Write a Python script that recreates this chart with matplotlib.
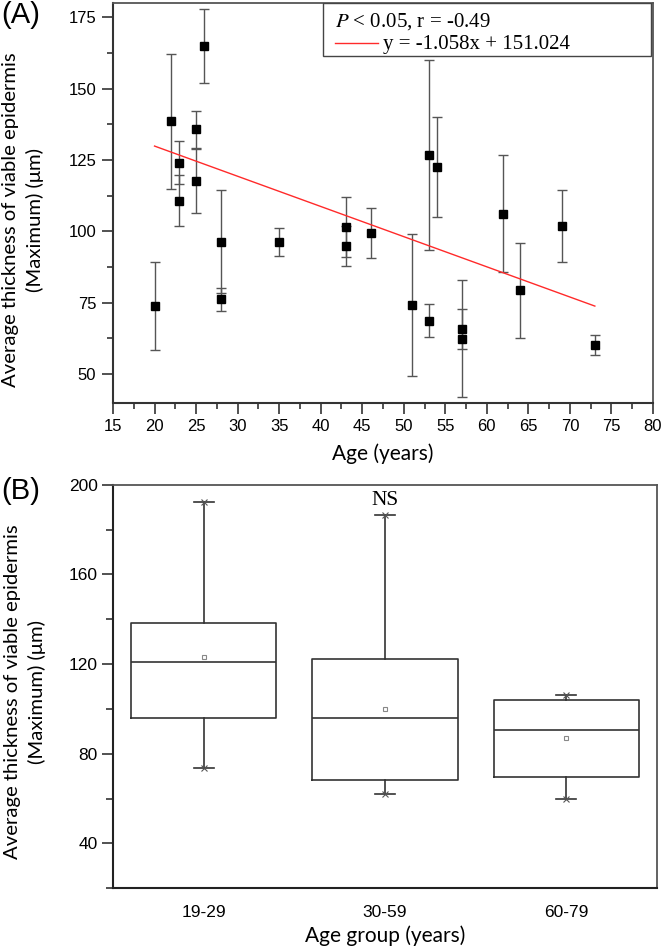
import numpy as np
import matplotlib.pyplot as plt
from matplotlib.patches import Rectangle
from matplotlib.lines import Line2D
from matplotlib.ticker import MultipleLocator

# ---- panel A data: age vs mean thickness (+/- SD) ----
ages = [20, 22, 23, 23, 25, 25, 26, 28, 28, 35, 43, 43,
        46, 51, 53, 53, 54, 57, 57, 62, 64, 69, 73]
thick = [73.8, 138.5, 124.1, 110.7, 135.7, 117.7, 164.9, 96.3, 76.2, 96.2, 101.6, 94.9,
         99.4, 74.2, 68.6, 126.6, 122.6, 65.7, 62.4, 106.2, 79.3, 101.7, 60.2]
err = [15.3, 23.7, 7.5, 9.0, 6.4, 11.2, 13.0, 18.0, 4.0, 4.8, 10.5, 7.0,
       8.6, 25.0, 5.8, 33.3, 17.6, 7.0, 20.5, 20.4, 16.7, 12.6, 3.5]
slope, intercept = -1.058, 151.024

# ---- panel B data: box stats per age group ----
groups = ["19-29", "30-59", "60-79"]
q1 = [96.1, 68.4, 69.5]
med = [121.1, 96.1, 90.5]
q3 = [138.5, 122.4, 104.0]
whislo = [73.7, 62.2, 59.9]
whishi = [192.2, 186.5, 106.1]
means = [123.0, 99.9, 86.9]

sans = ["Liberation Sans", "DejaVu Sans"]
label_font = ["Lato", "DejaVu Sans"]
serif = ["Liberation Serif", "DejaVu Serif"]
ylab = "Average thickness of viable epidermis\n(Maximum) (\u03bcm)"

fig = plt.figure(figsize=(6.64, 9.5), dpi=100)
W, H = 664, 950


def px_axes(l, t, r, b):
    return fig.add_axes([l / W, 1 - b / H, (r - l) / W, (b - t) / H])


# ================= (A) =================
axA = px_axes(113, 3, 653, 402.5)
axA.errorbar(ages, thick, yerr=err, fmt='none', ecolor='#555555',
             elinewidth=1.0, capsize=3.5, capthick=1.0, zorder=2)
axA.plot(ages, thick, 's', color='black', ms=5.5, zorder=3)
xfit = np.array([min(ages), max(ages)])
axA.plot(xfit, slope * xfit + intercept, color='#ff2a2a', lw=1.0, zorder=2)

axA.set_xlim(15, 80)
axA.set_ylim(40, 180)
axA.xaxis.set_major_locator(MultipleLocator(5))
axA.xaxis.set_minor_locator(MultipleLocator(2.5))
axA.set_yticks([50, 75, 100, 125, 150, 175])
axA.yaxis.set_minor_locator(MultipleLocator(12.5))
axA.tick_params(which='major', length=8, width=1.2, color='#333333',
                labelsize=12, pad=4)
axA.tick_params(which='minor', length=4.5, width=1.2, color='#333333')
for lab in axA.get_xticklabels() + axA.get_yticklabels():
    lab.set_fontfamily(sans)
for side in ['left', 'bottom']:
    axA.spines[side].set_linewidth(1.5)
    axA.spines[side].set_color('#333333')
for side in ['top', 'right']:
    axA.spines[side].set_linewidth(1.3)
    axA.spines[side].set_color('#555555')

axA.set_xlabel("Age (years)", fontsize=15, family=label_font, labelpad=7)

# legend box drawn by hand
axA.add_patch(Rectangle((0.389, 0.867), 0.607, 0.133, transform=axA.transAxes,
                        fill=False, edgecolor='#444444', lw=1.0, zorder=4))
axA.text(0.411, 0.942, r"$P$ < 0.05, r = -0.49", transform=axA.transAxes,
         fontsize=15, family=serif, va='baseline', ha='left',
         math_fontfamily='stix')
axA.add_line(Line2D([0.411, 0.491], [0.899, 0.899], transform=axA.transAxes,
                    color='#ff2a2a', lw=1.0))
axA.text(0.5, 0.884, "y = -1.058x + 151.024", transform=axA.transAxes,
         fontsize=15, family=serif, va='baseline', ha='left')

fig.text(23 / W, 1 - 220 / H, ylab,
         rotation=90, ha='center', va='center', multialignment='center',
         fontsize=14.6, family=label_font, linespacing=1.4)
fig.text(1 / W, 1 - 1 / H, "(A)", fontsize=21, family=sans, ha='left', va='top')

# ================= (B) =================
axB = px_axes(113, 484.7, 657, 888.3)
stats = []
for i in range(len(groups)):
    stats.append(dict(label=groups[i], q1=q1[i], med=med[i], q3=q3[i],
                      whislo=whislo[i], whishi=whishi[i], mean=means[i], fliers=[]))
pos = np.arange(1, len(groups) + 1)
lc = '#333333'
axB.bxp(stats, positions=pos, widths=0.8, capwidths=0.11, showmeans=True,
        boxprops=dict(color=lc, lw=1.2),
        medianprops=dict(color=lc, lw=1.2),
        whiskerprops=dict(color=lc, lw=1.2),
        capprops=dict(color=lc, lw=1.2),
        meanprops=dict(marker='s', markersize=3.5, markerfacecolor='white',
                       markeredgecolor='#888888', markeredgewidth=0.8))
axB.plot(pos, whishi, 'x', color='#555555', ms=5, mew=0.8)
axB.plot(pos, whislo, 'x', color='#555555', ms=5, mew=0.8)

axB.set_xlim(0.5, 3.5)
axB.set_ylim(20, 200)
axB.set_yticks([40, 80, 120, 160, 200])
axB.yaxis.set_minor_locator(MultipleLocator(20))
axB.tick_params(axis='y', which='major', length=8, width=1.2, color='#333333',
                labelsize=12.5, pad=3)
axB.tick_params(axis='y', which='minor', length=5, width=1.2, color='#333333')
axB.tick_params(axis='x', length=0, labelsize=12.5, pad=12)
for lab in axB.get_xticklabels() + axB.get_yticklabels():
    lab.set_fontfamily(sans)
for side in ['left', 'bottom']:
    axB.spines[side].set_linewidth(1.5)
    axB.spines[side].set_color('#222222')
for side in ['top', 'right']:
    axB.spines[side].set_linewidth(1.3)
    axB.spines[side].set_color('#555555')

axB.text(2, 193, "NS", fontsize=15.5, family=serif, ha='center', va='center')
axB.set_xlabel("Age group (years)", fontsize=15, family=label_font, labelpad=4)

fig.text(25 / W, 1 - 692 / H, ylab,
         rotation=90, ha='center', va='center', multialignment='center',
         fontsize=14.6, family=label_font, linespacing=1.4)
fig.text(1 / W, 1 - 477 / H, "(B)", fontsize=21, family=sans, ha='left', va='top')

fig.savefig("out.png", dpi=100)
